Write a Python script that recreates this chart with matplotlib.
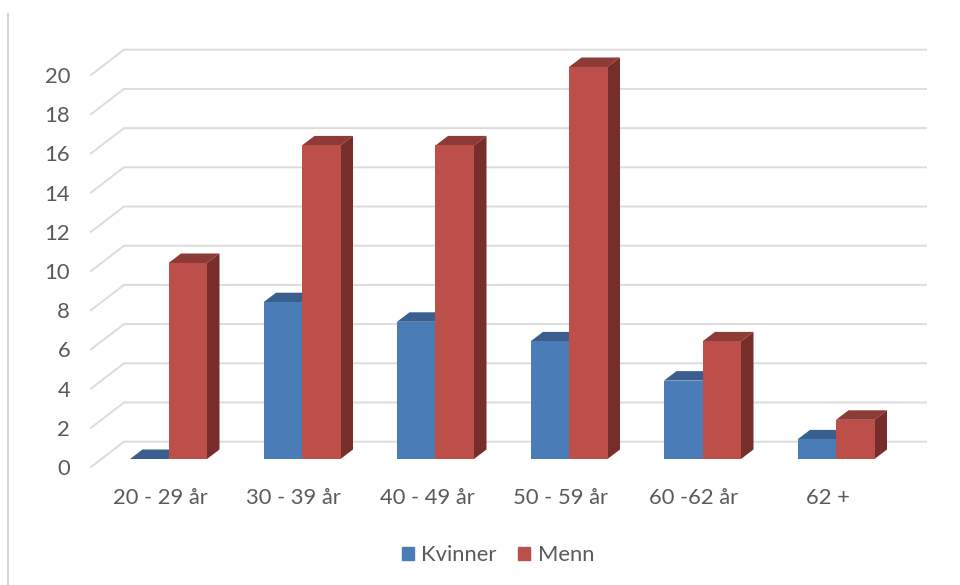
import matplotlib
matplotlib.use("Agg")
import matplotlib.pyplot as plt
from matplotlib.patches import Polygon, Patch
from matplotlib.lines import Line2D
from matplotlib.transforms import ScaledTranslation

categories = ["20 - 29 år", "30 - 39 år", "40 - 49 år", "50 - 59 år", "60 -62 år", "62 +"]
kvinner = [0, 8, 7, 6, 4, 1]
menn = [10, 16, 16, 20, 6, 2]
yticks = [0, 2, 4, 6, 8, 10, 12, 14, 16, 18, 20]

W, H = 960, 585
plt.rcParams['font.family'] = ['Lato', 'DejaVu Sans']
fig = plt.figure(figsize=(W / 100, H / 100), dpi=100)

# pixel frame of the front plane
LEFT, RIGHT, BASE, TOP = 91, 926, 459, 67
ax = fig.add_axes([LEFT / W, 1 - BASE / H, (RIGHT - LEFT) / W, (BASE - TOP) / H])
PX_CAT = 133.5
CAT0 = 168.5
PX_VAL = (BASE - TOP) / 20
ax.set_xlim((LEFT - CAT0) / PX_CAT, (RIGHT - CAT0) / PX_CAT)
ax.set_ylim(0, 20)
for s in ax.spines.values():
    s.set_visible(False)

def dx(p):
    return p / PX_CAT

def dy(p):
    return p / PX_VAL

# gridlines: floor stub plus back wall
x0 = ax.get_xlim()[0]
x1 = ax.get_xlim()[1]
for v in yticks:
    ax.plot([x0, x0 + dx(33), x1], [v - dy(8), v + dy(17.3), v + dy(17.3)],
            color="#DCDCDC", lw=1.4, clip_on=False, zorder=1, solid_joinstyle="miter")

# bars
bw = 38.5 / PX_CAT
ddx, ddy = dx(12.5), dy(9.5)
styles = [("Kvinner", kvinner, -bw, "#4A7DB8", "#3A5F8F", "#2F4F78"),
          ("Menn", menn, 0, "#BC4F4A", "#8E3A36", "#772E2B")]
z = 2
for name, vals, off, front, top, side in styles:
    for i, v in enumerate(vals):
        l, r = i + off, i + off + bw
        ax.add_patch(Polygon([(l, v), (r, v), (r + ddx, v + ddy), (l + ddx, v + ddy)],
                             fc=top, ec="none", zorder=z, clip_on=False))
        ax.add_patch(Polygon([(r, 0), (r + ddx, ddy), (r + ddx, v + ddy), (r, v)],
                             fc=side, ec="none", zorder=z, clip_on=False))
    ax.bar([i + off + bw / 2 for i in range(len(vals))], vals, width=bw,
           color=front, zorder=z + 1, label=name, clip_on=False)
    z += 2

# ticks
ax.set_yticks(yticks)
ax.set_yticklabels([str(v) for v in yticks])
ax.set_xticks(range(len(categories)))
ax.set_xticklabels(categories)
ax.tick_params(axis="both", length=0, labelsize=15.8, labelcolor="#5A5A5A")
ax.tick_params(axis="y", pad=15)
ax.tick_params(axis="x", pad=21)
xshift = ScaledTranslation(-8.5 / 100, 0, fig.dpi_scale_trans)
yshift = ScaledTranslation(0, -8 / 100, fig.dpi_scale_trans)
for t in ax.get_xticklabels():
    t.set_transform(t.get_transform() + xshift)
for t in ax.get_yticklabels():
    t.set_transform(t.get_transform() + yshift)

# legend
handles = [Patch(color=styles[0][3]), Patch(color=styles[1][3])]
fig.legend(handles, ["Kvinner", "Menn"], loc="center", bbox_to_anchor=(498 / W, 1 - 555 / H),
           ncol=2, frameon=False, fontsize=15.8, labelcolor="#5A5A5A",
           handlelength=0.55, handleheight=0.55, handletextpad=0.32, columnspacing=1.0)

# left border of the pasted image
fig.add_artist(Line2D([8 / W, 8 / W], [0, 1 - 14 / H], color="#D4D4D4", lw=1.5))

fig.savefig("out.png", dpi=100, facecolor="white")
